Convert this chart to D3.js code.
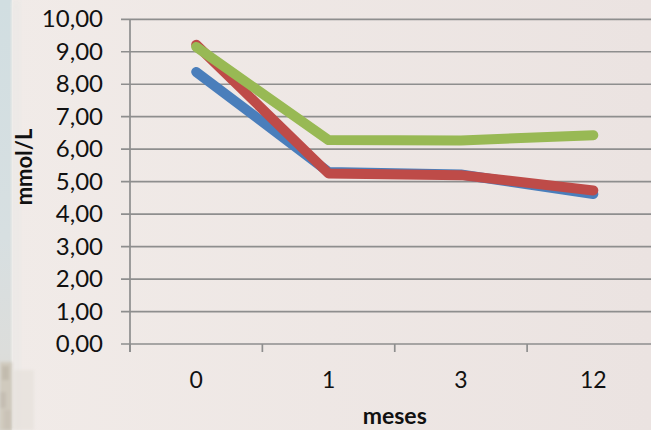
<!DOCTYPE html>
<html>
<head>
<meta charset="utf-8">
<script src="https://cdn.jsdelivr.net/npm/d3@7"></script>
<style>
  html, body { margin: 0; padding: 0; background: #efe8e5; }
  svg { display: block; }
</style>
</head>
<body>
<svg id="chart" width="651" height="430"></svg>
<script>
// Months of follow-up (categories along the x axis)
const categories = ["0", "1", "3", "12"];

// mmol/L values for each series
const seriesBlue  = [8.38, 5.30, 5.22, 4.62];
const seriesRed   = [9.22, 5.25, 5.20, 4.73];
const seriesGreen = [9.15, 6.28, 6.27, 6.43];

// y-axis tick values
const yTicks = [0, 1, 2, 3, 4, 5, 6, 7, 8, 9, 10];

const seriesList = [
  { name: "azul",  values: seriesBlue,  color: "#4a7ebb" },
  { name: "rojo",  values: seriesRed,   color: "#be4b48" },
  { name: "verde", values: seriesGreen, color: "#98b954" }
];

const W = 651, H = 430;
const plot = { left: 130, right: 659.5, top: 19.3, bottom: 344 };
const gridColor = "#8e8e8e";

const svg = d3.select("#chart");
const defs = svg.append("defs");

// ---- background ----
const bg = defs.append("linearGradient").attr("id", "bg").attr("x1", 0).attr("x2", 1).attr("y1", 0).attr("y2", 0);
bg.append("stop").attr("offset", 0).attr("stop-color", "#f1ebe8");
bg.append("stop").attr("offset", 1).attr("stop-color", "#ebe3e1");
svg.append("rect").attr("width", W).attr("height", H).attr("fill", "url(#bg)");

const strip = defs.append("linearGradient").attr("id", "strip").attr("x1", 0).attr("x2", 0).attr("y1", 0).attr("y2", 1);
strip.append("stop").attr("offset", 0).attr("stop-color", "#d1dee1");
strip.append("stop").attr("offset", 0.55).attr("stop-color", "#d7dfe1");
strip.append("stop").attr("offset", 0.82).attr("stop-color", "#dcdddb");
strip.append("stop").attr("offset", 1).attr("stop-color", "#dad6ce");

defs.append("filter").attr("id", "soft").append("feGaussianBlur").attr("stdDeviation", 1.8);
defs.append("filter").attr("id", "softer").append("feGaussianBlur").attr("stdDeviation", 3);

const edge = svg.append("g");
edge.append("rect").attr("x", 0).attr("y", 0).attr("width", 12).attr("height", H).attr("fill", "url(#strip)");
edge.append("rect").attr("x", 11).attr("y", 0).attr("width", 10).attr("height", H)
  .attr("fill", "#eae9e6").attr("opacity", 0.7).attr("filter", "url(#softer)");
edge.append("rect").attr("x", 11.5).attr("y", 0).attr("width", 1.5).attr("height", H)
  .attr("fill", "#f0eeec").attr("opacity", 0.6);
// worn texture at the lower-left edge
const tex = edge.append("g").attr("filter", "url(#soft)");
tex.append("rect").attr("x", 0).attr("y", 362).attr("width", 12).attr("height", 68).attr("fill", "#d0cabe");
tex.append("rect").attr("x", 2).attr("y", 366).attr("width", 7).attr("height", 14).attr("fill", "#c2bbae");
tex.append("rect").attr("x", 0).attr("y", 392).attr("width", 6).attr("height", 16).attr("fill", "#c5beb2");
tex.append("rect").attr("x", 4).attr("y", 410).attr("width", 7).attr("height", 20).attr("fill", "#cac3b7");
tex.append("rect").attr("x", 14).attr("y", 370).attr("width", 20).attr("height", 60).attr("fill", "#e4dfd9").attr("opacity", 0.6);

// ---- scales ----
const x = d3.scaleBand().domain(categories).range([plot.left, plot.right]).paddingInner(0).paddingOuter(0);
const y = d3.scaleLinear().domain([0, 10]).range([plot.bottom, plot.top]);
const cx = c => x(c) + x.bandwidth() / 2;

const fontFamily = "Lato, 'Open Sans', sans-serif";

// ---- horizontal gridlines ----
svg.append("g")
  .selectAll("line")
  .data(yTicks)
  .join("line")
  .attr("x1", plot.left - 9)
  .attr("x2", W)
  .attr("y1", d => y(d))
  .attr("y2", d => y(d))
  .attr("stroke", gridColor)
  .attr("stroke-width", 1.7);

// ---- y axis ----
const yAxis = svg.append("g")
  .attr("transform", `translate(${plot.left},0)`)
  .call(d3.axisLeft(y)
    .tickValues(yTicks)
    .tickSize(0)
    .tickPadding(27)
    .tickFormat(d => d3.format(".2f")(d).replace(".", ",")));
yAxis.select(".domain").remove();
yAxis.selectAll(".tick line").remove();
yAxis.selectAll("text")
  .attr("font-family", fontFamily)
  .attr("font-size", 24)
  .attr("fill", "#111");

svg.append("line")
  .attr("x1", plot.left).attr("x2", plot.left)
  .attr("y1", plot.top).attr("y2", plot.bottom + 8)
  .attr("stroke", gridColor).attr("stroke-width", 1.7);

// ---- x axis ----
const xAxis = svg.append("g")
  .attr("transform", `translate(0,${plot.bottom})`)
  .call(d3.axisBottom(x).tickSize(0).tickPadding(28));
xAxis.select(".domain").remove();
xAxis.selectAll("text")
  .attr("font-family", fontFamily)
  .attr("font-size", 23)
  .attr("fill", "#111");

// tick marks on the category boundaries
svg.append("g")
  .selectAll("line")
  .data(categories)
  .join("line")
  .attr("x1", d => x(d))
  .attr("x2", d => x(d))
  .attr("y1", plot.bottom)
  .attr("y2", plot.bottom + 8)
  .attr("stroke", gridColor)
  .attr("stroke-width", 1.7);

// ---- series lines ----
const line = d3.line()
  .x((d, i) => cx(categories[i]))
  .y(d => y(d));

svg.append("g")
  .selectAll("path")
  .data(seriesList)
  .join("path")
  .attr("d", s => line(s.values))
  .attr("fill", "none")
  .attr("stroke", s => s.color)
  .attr("stroke-width", 10)
  .attr("stroke-linecap", "round")
  .attr("stroke-linejoin", "round");

// ---- axis titles ----
svg.append("text")
  .attr("transform", "translate(32,167) rotate(-90)")
  .attr("text-anchor", "middle")
  .attr("font-family", fontFamily)
  .attr("font-weight", "bold")
  .attr("font-size", 22)
  .attr("fill", "#111")
  .text("mmol/L");

svg.append("text")
  .attr("x", (plot.left + plot.right) / 2)
  .attr("y", 424)
  .attr("text-anchor", "middle")
  .attr("font-family", fontFamily)
  .attr("font-weight", "bold")
  .attr("font-size", 23)
  .attr("fill", "#111")
  .text("meses");
</script>
</body>
</html>
